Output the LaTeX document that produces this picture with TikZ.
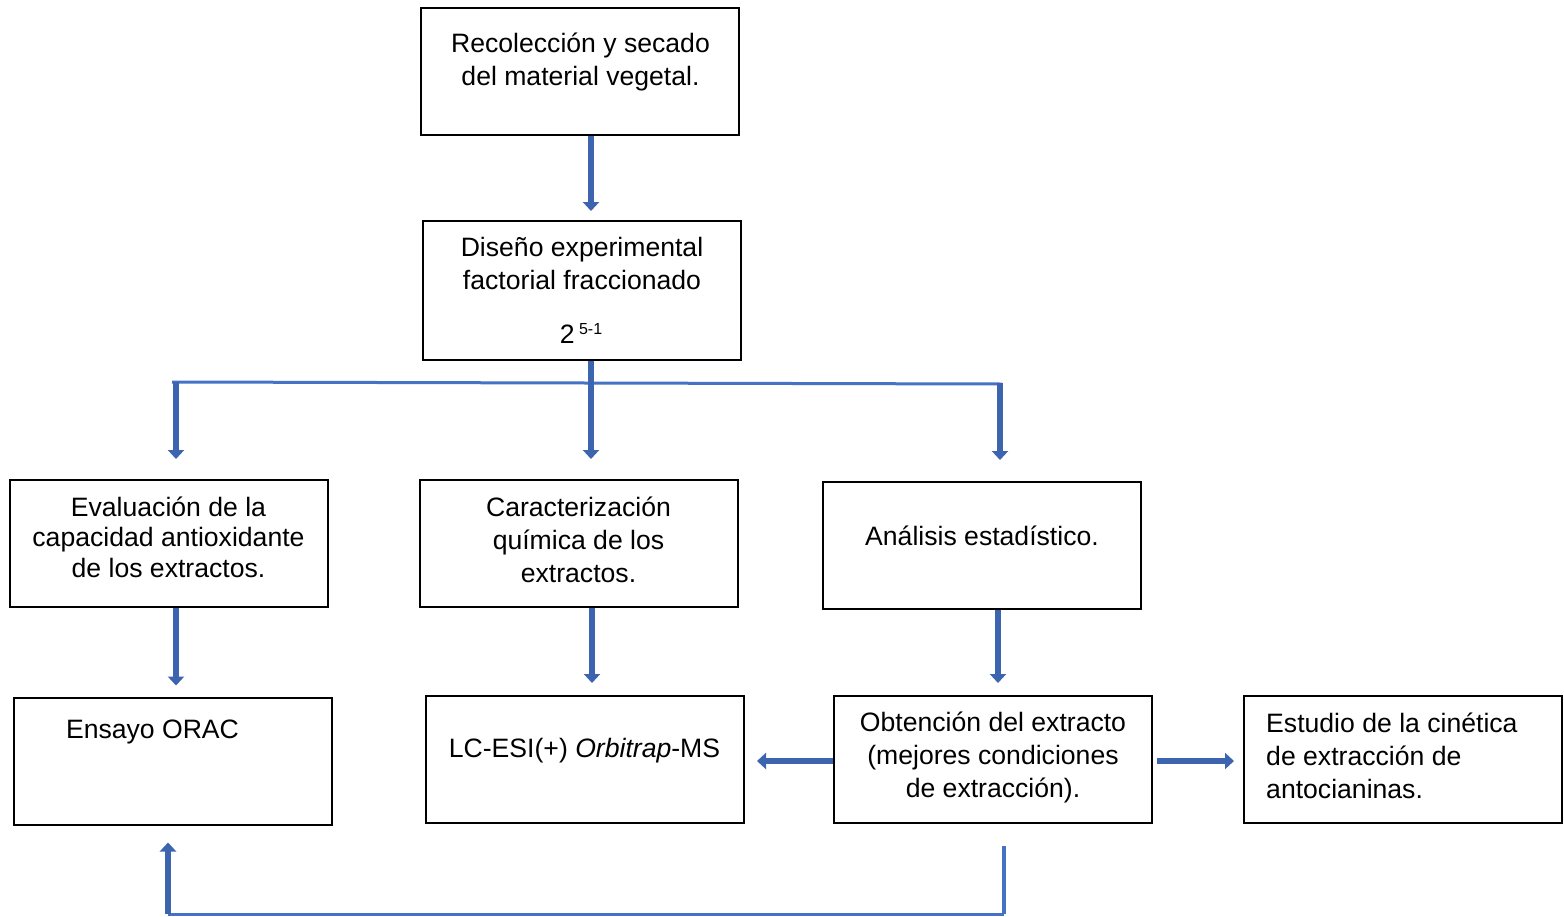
\documentclass[tikz,border=0pt]{standalone}
\usepackage{fontspec}
\setmainfont{Liberation Sans}
\usetikzlibrary{arrows.meta,calc}
\definecolor{arrblue}{RGB}{60,100,175}
\definecolor{busblue}{RGB}{68,114,196}
\begin{document}
\begin{tikzpicture}[x=1pt,y=-1pt,
  box/.style={draw=black,line width=2pt,minimum width=318pt,minimum height=127pt,inner sep=0pt},
  txt/.style={font=\fontsize{26.6pt}{33pt}\selectfont,align=center,inner sep=0pt},
  arr/.style={draw=arrblue,line width=6.5pt,-{Triangle[width=16pt,length=9pt]}},
  bus/.style={draw=busblue,line width=3pt}]
\useasboundingbox (0,0) rectangle (1564,916);
% boxes
\node[box] (b1) at (580,71.5) {};
\node[box,minimum height=139pt] (b2) at (582,290.5) {};
\node[box] (b3) at (169,543.5) {};
\node[box] (b4) at (579,543.5) {};
\node[box] (b5) at (982,545.5) {};
\node[box] (b6) at (173,761) {};
\node[box] (b7) at (585,759.5) {};
\node[box] (b8) at (993,759.5) {};
\node[box] (b9) at (1403,759.5) {};
% texts
\node[txt] (t1) at (580.5,61.5) {Recolección y secado\\del material vegetal.};
\node[txt] (t2) at (582,263.5) {Diseño experimental\\factorial fraccionado};
\node[txt] (t2b) at (581,333.5) {2\,\raisebox{9pt}{\fontsize{16pt}{18pt}\selectfont 5-1}};
\node[txt,font=\fontsize{26.6pt}{30.5pt}\selectfont] (t3) at (168.5,537) {Evaluación de la\\capacidad antioxidante\\de los extractos.};
\node[txt] (t4) at (578.5,540) {Caracterización\\química de los\\extractos.};
\node[txt] (t5) at (982,535.5) {Análisis estadístico.};
\node[txt] (t6) at (152.5,732) {Ensayo ORAC};
\node[txt] (t7) at (584.5,751) {LC-ESI(+) \textit{Orbitrap}-MS};
\node[txt] (t8) at (993,757) {Obtención del extracto\\(mejores condiciones\\de extracción).};
\node[txt,align=left,anchor=west] (t9) at (1266,756) {Estudio de la cinética\\de extracción de\\antocianinas.};
% connectors
\draw[arr,shorten >=9pt] ([xshift=11pt]b1.south) -- ([xshift=9pt]b2.north);
\coordinate (busL) at (172,382);
\coordinate (busR) at (1002,384);
\draw[bus] (busL) -- (busR);
\draw[arr,shorten >=20pt] ([xshift=9pt]b2.south) -- ([xshift=12pt]b4.north);
\draw[arr,shorten >=20pt] (176,382) -- ([xshift=7pt]b3.north);
\draw[arr,shorten >=21pt] (1000,383) -- ([xshift=18pt]b5.north);
\draw[arr,shorten >=11pt] ([xshift=7pt]b3.south) -- ([xshift=3pt]b6.north);
\draw[arr,shorten >=12pt] ([xshift=13pt]b4.south) -- ([xshift=7pt]b7.north);
\draw[arr,shorten >=12pt] ([xshift=16pt]b5.south) -- ([xshift=5pt]b8.north);
\draw[arr,shorten >=12pt] ([yshift=-1.5pt]b8.west) -- ([yshift=-1.5pt]b7.east);
\draw[arr,shorten <=4pt,shorten >=9pt] ([yshift=-1.5pt]b8.east) -- ([yshift=-1.5pt]b9.west);
\coordinate (c1) at (1004,846);
\coordinate (c2) at (1004,914);
\coordinate (c3) at (168,914);
\draw[bus,line width=4.5pt] (c1) -- (c2);
\draw[bus] (c2) -- (c3);
\draw[arr,shorten >=17pt] (c3) -- ([xshift=-5pt]b6.south);
\end{tikzpicture}
\end{document}
